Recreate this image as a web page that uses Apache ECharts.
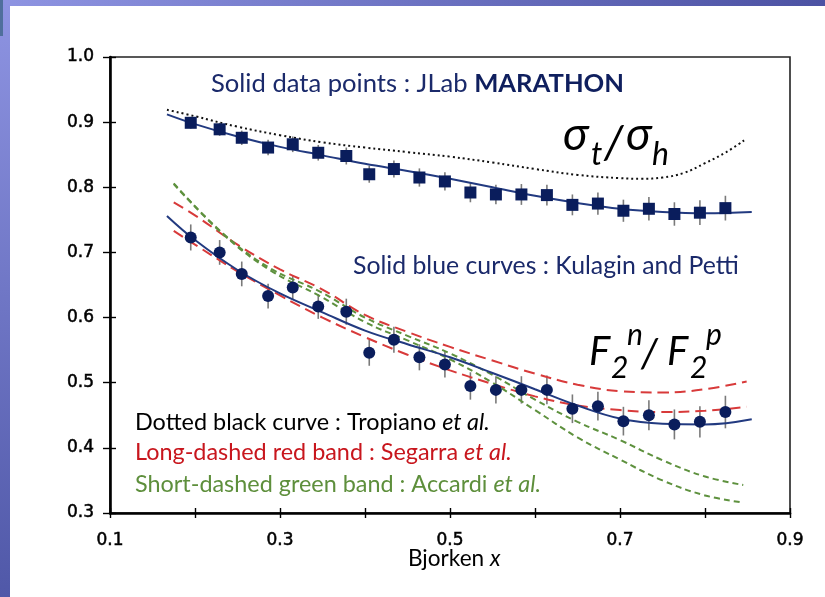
<!DOCTYPE html>
<html>
<head>
<meta charset="utf-8">
<script src="https://cdn.jsdelivr.net/npm/echarts@6/dist/echarts.min.js"></script>
<style>
html,body{margin:0;padding:0;background:#fff;}
#chart{width:825px;height:597px;}
</style>
</head>
<body>
<div id="chart"></div>
<script>
// ---- data ----
const xTickLabels = ['0.1', '0.3', '0.5', '0.7', '0.9'];
const yTickLabels = ['0.3', '0.4', '0.5', '0.6', '0.7', '0.8', '0.9', '1.0'];

const pointX = [0.195,0.229,0.255,0.286,0.315,0.345,0.378,0.405,0.434,0.464,0.494,0.524,0.554,0.584,0.614,0.644,0.674,0.704,0.734,0.764,0.794,0.824];
const sigmaRatio = [0.899,0.889,0.876,0.861,0.866,0.853,0.848,0.820,0.828,0.815,0.809,0.792,0.789,0.789,0.788,0.773,0.775,0.764,0.767,0.759,0.761,0.768];
const sigmaErr   = [0.009,0.010,0.011,0.012,0.012,0.012,0.013,0.013,0.013,0.014,0.014,0.015,0.015,0.016,0.016,0.016,0.017,0.017,0.018,0.018,0.019,0.019];
const f2Ratio = [0.723,0.700,0.667,0.633,0.646,0.617,0.609,0.546,0.566,0.539,0.528,0.495,0.489,0.489,0.489,0.460,0.464,0.441,0.450,0.436,0.440,0.455];
const f2Err   = [0.020,0.019,0.019,0.019,0.019,0.019,0.020,0.020,0.020,0.020,0.020,0.021,0.021,0.021,0.022,0.022,0.022,0.022,0.023,0.023,0.024,0.025];

const kpSigmaX = [0.167,0.2,0.25,0.3,0.35,0.4,0.45,0.5,0.55,0.6,0.65,0.7,0.75,0.8,0.855];
const kpSigmaY = [0.912,0.897,0.878,0.862,0.849,0.836,0.825,0.813,0.800,0.787,0.776,0.767,0.762,0.760,0.762];

const tropX = [0.167,0.2,0.25,0.3,0.35,0.4,0.45,0.5,0.55,0.6,0.65,0.7,0.725,0.75,0.775,0.8,0.825,0.846];
const tropY = [0.919,0.909,0.893,0.880,0.869,0.861,0.854,0.847,0.838,0.828,0.819,0.814,0.813,0.815,0.822,0.837,0.854,0.872];

const kpF2X = [0.167,0.2,0.25,0.3,0.35,0.4,0.45,0.5,0.55,0.6,0.65,0.7,0.75,0.8,0.855];
const kpF2Y = [0.756,0.719,0.673,0.637,0.608,0.580,0.559,0.539,0.515,0.490,0.465,0.445,0.437,0.436,0.444];

const segHiX = [0.175,0.2,0.25,0.3,0.35,0.4,0.45,0.5,0.55,0.6,0.65,0.7,0.75,0.8,0.849];
const segHiY = [0.777,0.757,0.712,0.674,0.643,0.604,0.578,0.555,0.534,0.514,0.497,0.487,0.485,0.490,0.502];
const segLoX = [0.175,0.2,0.25,0.3,0.35,0.4,0.45,0.5,0.55,0.6,0.65,0.7,0.75,0.8,0.849];
const segLoY = [0.733,0.712,0.671,0.634,0.600,0.570,0.543,0.519,0.498,0.479,0.465,0.458,0.455,0.457,0.463];

const accHiX = [0.175,0.233,0.288,0.347,0.4,0.45,0.5,0.55,0.6,0.65,0.7,0.75,0.8,0.845];
const accHiY = [0.806,0.729,0.676,0.640,0.600,0.572,0.545,0.512,0.474,0.440,0.412,0.381,0.356,0.343];
const accLoX = [0.175,0.233,0.288,0.347,0.4,0.45,0.5,0.55,0.6,0.65,0.7,0.75,0.8,0.845];
const accLoY = [0.805,0.728,0.673,0.633,0.593,0.565,0.536,0.500,0.458,0.416,0.382,0.350,0.327,0.316];

// ---- helpers ----
const zip = (xs, ys) => xs.map((x, i) => [x, ys[i]]);
const errData = (xs, ys, es) => xs.map((x, i) => [x, ys[i] - es[i], ys[i] + es[i]]);

const NAVY = '#0a1d5c';
const CURVE = '#223a80';

function errSeries(data) {
  return {
    type: 'custom',
    z: 2,
    silent: true,
    data: data,
    renderItem: function (params, api) {
      const a = api.coord([api.value(0), api.value(1)]);
      const b = api.coord([api.value(0), api.value(2)]);
      return {
        type: 'line',
        shape: { x1: a[0], y1: a[1], x2: b[0], y2: b[1] },
        style: { stroke: '#7a7a7a', lineWidth: 1.6 }
      };
    }
  };
}
function curve(xs, ys, color, type, width) {
  return {
    type: 'line', smooth: 0.4, showSymbol: false, symbol: 'none', z: 3,
    data: zip(xs, ys),
    lineStyle: { color: color, width: width || 2, type: type || 'solid' }
  };
}

const chart = echarts.init(document.getElementById('chart'), null, { renderer: 'canvas' });

const baseAxisY = {
  type: 'value', min: 0.3, max: 1.0, interval: 0.1,
  splitLine: { show: false }
};
const baseAxisX = {
  type: 'value', min: 0.1, max: 0.9, interval: 0.1,
  splitLine: { show: false }
};

const fontMain = 'Lato, "Open Sans", sans-serif';
const tickFont = '"DejaVu Sans", Verdana, sans-serif';

chart.setOption({
  animation: false,
  backgroundColor: '#ffffff',
  grid: { left: 110, right: 35, top: 57, bottom: 84, show: true, borderColor: '#222', borderWidth: 1.6, backgroundColor: 'transparent' },
  xAxis: [
    Object.assign({}, baseAxisX, {
      position: 'bottom',
      axisLine: { show: true, onZero: false, lineStyle: { color: '#000', width: 2.6 } },
      axisTick: { show: true, inside: false, length: 5, lineStyle: { color: '#000', width: 1.4 } },
      axisLabel: {
        margin: 19, color: '#000', fontFamily: tickFont, fontSize: 17,
        textBorderColor: '#000', textBorderWidth: 0.5,
        formatter: function (v) { const s = v.toFixed(1); return xTickLabels.indexOf(s) >= 0 ? s : ''; }
      }
    }),
    Object.assign({}, baseAxisX, {
      position: 'bottom',
      axisLine: { show: false },
      axisTick: { show: true, inside: true, length: 5, lineStyle: { color: '#000', width: 1.4 } },
      axisLabel: { show: false }
    })
  ],
  yAxis: [
    Object.assign({}, baseAxisY, {
      position: 'left',
      axisLine: { show: true, onZero: false, lineStyle: { color: '#000', width: 2.6 } },
      axisTick: { show: true, inside: false, length: 7, lineStyle: { color: '#000', width: 1.4 } },
      axisLabel: {
        margin: 16, color: '#000', fontFamily: tickFont, fontSize: 17,
        textBorderColor: '#000', textBorderWidth: 0.5,
        formatter: function (v) { const s = v.toFixed(1); return yTickLabels.indexOf(s) >= 0 ? s : ''; }
      }
    }),
    Object.assign({}, baseAxisY, {
      position: 'left',
      axisLine: { show: false },
      axisTick: { show: true, inside: true, length: 6, lineStyle: { color: '#000', width: 1.4 } },
      axisLabel: { show: false }
    })
  ],
  series: [
    curve(tropX, tropY, '#111', [2, 3], 2),
    curve(kpSigmaX, kpSigmaY, CURVE, 'solid', 2),
    curve(segHiX, segHiY, '#d83a3a', [11, 6], 2),
    curve(segLoX, segLoY, '#d83a3a', [11, 6], 2),
    curve(accHiX, accHiY, '#5e913e', [6, 4], 2),
    curve(accLoX, accLoY, '#5e913e', [6, 4], 2),
    curve(kpF2X, kpF2Y, CURVE, 'solid', 2),
    errSeries(errData(pointX, sigmaRatio, sigmaErr)),
    errSeries(errData(pointX, f2Ratio, f2Err)),
    {
      type: 'scatter', z: 5, symbol: 'rect', symbolSize: 12,
      data: zip(pointX, sigmaRatio), itemStyle: { color: NAVY, opacity: 1 }
    },
    {
      type: 'scatter', z: 5, symbol: 'circle', symbolSize: 12,
      data: zip(pointX, f2Ratio), itemStyle: { color: NAVY, opacity: 1 }
    }
  ],
  graphic: [
    // slide decoration
    { type: 'rect', shape: { x: 0, y: 0, width: 825, height: 6 }, z: 0,
      style: { fill: new echarts.graphic.LinearGradient(0, 0, 1, 0, [{ offset: 0, color: '#8e94e2' }, { offset: 1, color: '#4c52a3' }]) } },
    { type: 'rect', shape: { x: 0, y: 0, width: 10, height: 597 }, z: 0,
      style: { fill: new echarts.graphic.LinearGradient(0, 0, 0, 1, [{ offset: 0, color: '#8e94e2' }, { offset: 1, color: '#5058a8' }]) } },
    { type: 'rect', shape: { x: 0, y: 0, width: 3, height: 36 }, z: 0, style: { fill: '#4f6f9c' } },

    // annotations
    { type: 'text', left: 211, top: 71, z: 10,
      style: { text: '{n|Solid data points : JLab }{b|MARATHON}', rich: {
        n: { fontFamily: fontMain, fontSize: 25.6, fill: '#1b2a6b' },
        b: { fontFamily: fontMain, fontSize: 25.6, fontWeight: 'bold', fill: '#0f1f5e' } } } },
    { type: 'text', left: 353, top: 254, z: 10,
      style: { text: 'Solid blue curves : Kulagin and Petti', fontFamily: fontMain, fontSize: 24.8, fill: '#1b2a6b' } },

    // sigma_t / sigma_h
    { type: 'text', x: 563, y: 158, z: 10, style: { text: 'σ', fontFamily: fontMain, fontStyle: 'italic', fontSize: 46, fill: '#000', textVerticalAlign: 'bottom' } },
    { type: 'text', x: 591, y: 171, z: 10, style: { text: 't', fontFamily: fontMain, fontStyle: 'italic', fontSize: 32, fill: '#000', textVerticalAlign: 'bottom' } },
    { type: 'text', x: 604, y: 166, z: 10, style: { text: '/', fontFamily: fontMain, fontStyle: 'italic', fontSize: 46, fill: '#000', textVerticalAlign: 'bottom' } },
    { type: 'text', x: 626, y: 158, z: 10, style: { text: 'σ', fontFamily: fontMain, fontStyle: 'italic', fontSize: 46, fill: '#000', textVerticalAlign: 'bottom' } },
    { type: 'text', x: 652, y: 171, z: 10, style: { text: 'h', fontFamily: fontMain, fontStyle: 'italic', fontSize: 32, fill: '#000', textVerticalAlign: 'bottom' } },

    // F2n / F2p
    { type: 'text', x: 589, y: 372, z: 10, style: { text: 'F', fontFamily: fontMain, fontStyle: 'italic', fontSize: 40, fill: '#000', textVerticalAlign: 'bottom' } },
    { type: 'text', x: 611, y: 383, z: 10, style: { text: '2', fontFamily: fontMain, fontStyle: 'italic', fontSize: 30, fill: '#000', textVerticalAlign: 'bottom' } },
    { type: 'text', x: 627, y: 350, z: 10, style: { text: 'n', fontFamily: fontMain, fontStyle: 'italic', fontSize: 30, fill: '#000', textVerticalAlign: 'bottom' } },
    { type: 'text', x: 641, y: 374, z: 10, style: { text: '/', fontFamily: fontMain, fontStyle: 'italic', fontSize: 40, fill: '#000', textVerticalAlign: 'bottom' } },
    { type: 'text', x: 667, y: 372, z: 10, style: { text: 'F', fontFamily: fontMain, fontStyle: 'italic', fontSize: 40, fill: '#000', textVerticalAlign: 'bottom' } },
    { type: 'text', x: 690, y: 383, z: 10, style: { text: '2', fontFamily: fontMain, fontStyle: 'italic', fontSize: 30, fill: '#000', textVerticalAlign: 'bottom' } },
    { type: 'text', x: 706, y: 350, z: 10, style: { text: 'p', fontFamily: fontMain, fontStyle: 'italic', fontSize: 30, fill: '#000', textVerticalAlign: 'bottom' } },

    // notes
    { type: 'text', left: 135, top: 411, z: 10,
      style: { text: '{n|Dotted black curve : Tropiano }{i|et al.}', rich: {
        n: { fontFamily: fontMain, fontSize: 23.4, fill: '#000' },
        i: { fontFamily: fontMain, fontSize: 23.4, fontStyle: 'italic', fill: '#000' } } } },
    { type: 'text', left: 135, top: 441, z: 10,
      style: { text: '{n|Long-dashed red band : Segarra }{i|et al.}', rich: {
        n: { fontFamily: fontMain, fontSize: 23.4, fill: '#c8161d' },
        i: { fontFamily: fontMain, fontSize: 23.4, fontStyle: 'italic', fill: '#c8161d' } } } },
    { type: 'text', left: 135, top: 473, z: 10,
      style: { text: '{n|Short-dashed green band : Accardi }{i|et al.}', rich: {
        n: { fontFamily: fontMain, fontSize: 23.4, fill: '#5e8f3c' },
        i: { fontFamily: fontMain, fontSize: 23.4, fontStyle: 'italic', fill: '#5e8f3c' } } } },

    // axis title
    { type: 'text', left: 408, top: 547, z: 10,
      style: { text: '{n|Bjorken }{i|x}', rich: {
        n: { fontFamily: fontMain, fontSize: 22.6, fill: '#000' },
        i: { fontFamily: fontMain, fontSize: 22.6, fontStyle: 'italic', fill: '#000' } } } }
  ]
});
</script>
</body>
</html>
